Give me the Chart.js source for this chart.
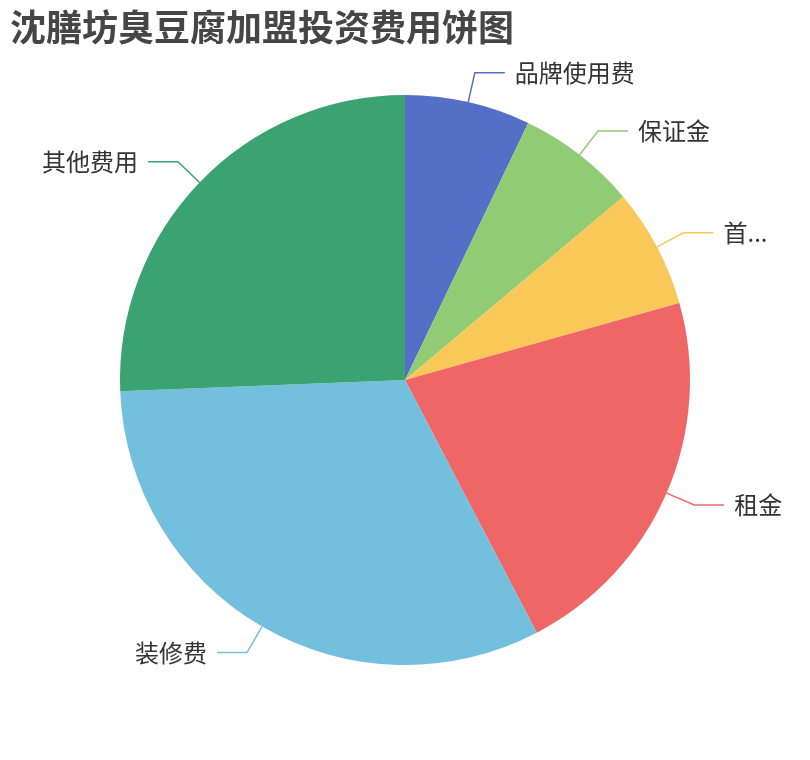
<!DOCTYPE html>
<html lang="zh">
<head>
    <meta charset="UTF-8">
    <title>沈膳坊臭豆腐加盟投资费用饼图</title>
    <style>
        html, body {
            margin: 0;
            padding: 0;
            background: #fff;
        }

        #wrap {
            position: relative;
            width: 810px;
            height: 760px;
        }

        #title {
            position: absolute;
            left: 10px;
            top: 3px;
            margin: 0;
            font: bold 36px "Noto Sans CJK SC", sans-serif;
            color: #464646;
            line-height: 44px;
        }

        #pieChart {
            position: absolute;
            left: 0;
            top: 0;
        }
    </style>
</head>
<body>
    <div id="wrap">
        <canvas id="pieChart" width="810" height="760"></canvas>
        <h1 id="title">沈膳坊臭豆腐加盟投资费用饼图</h1>
    </div>
    <script src="https://cdn.jsdelivr.net/npm/chart.js"></script>
    <script>
        // 费用项目与数值
        const categories = ['品牌使用费', '保证金', '首批进货费', '租金', '装修费', '其他费用'];
        const costValues = [2.0, 1.9, 1.9, 6.1, 9.0, 7.2];
        const sliceColors = ['#5470c6', '#91cc75', '#fac858', '#ee6666', '#73c0de', '#3ba272'];

        // 外部标签 + 引导线
        const outsideLabels = {
            id: 'outsideLabels',
            afterDatasetsDraw(chart) {
                const ctx = chart.ctx;
                const meta = chart.getDatasetMeta(0);
                const len1 = 30, len2 = 30, gap = 10;
                ctx.save();
                ctx.font = '24px "Noto Sans CJK SC", sans-serif';
                ctx.textBaseline = 'middle';
                meta.data.forEach((arc, i) => {
                    const p = arc.getProps(['x', 'y', 'startAngle', 'endAngle', 'outerRadius'], true);
                    const mid = (p.startAngle + p.endAngle) / 2;
                    const cos = Math.cos(mid), sin = Math.sin(mid);
                    const x1 = p.x + cos * p.outerRadius, y1 = p.y + sin * p.outerRadius;
                    const x2 = p.x + cos * (p.outerRadius + len1), y2 = p.y + sin * (p.outerRadius + len1);
                    const right = cos >= 0;
                    const x3 = x2 + (right ? len2 : -len2);

                    ctx.strokeStyle = sliceColors[i];
                    ctx.lineWidth = 1.5;
                    ctx.beginPath();
                    ctx.moveTo(x1, y1);
                    ctx.lineTo(x2, y2);
                    ctx.lineTo(x3, y2);
                    ctx.stroke();

                    const tx = x3 + (right ? gap : -gap);
                    // 超出右侧空间时截断
                    const maxW = right ? chart.width - tx - 24 : tx - 10;
                    let text = categories[i];
                    if (ctx.measureText(text).width > maxW) {
                        while (text.length > 1 && ctx.measureText(text + '...').width > maxW) {
                            text = text.slice(0, -1);
                        }
                        text += '...';
                    }
                    ctx.fillStyle = '#333';
                    ctx.textAlign = right ? 'left' : 'right';
                    ctx.fillText(text, tx, y2);
                });
                ctx.restore();
            }
        };

        function createPieChart() {
            const ctx = document.getElementById('pieChart').getContext('2d');
            new Chart(ctx, {
                type: 'pie',
                data: {
                    labels: categories,
                    datasets: [{
                        data: costValues,
                        backgroundColor: sliceColors,
                        borderWidth: 0
                    }]
                },
                options: {
                    responsive: false,
                    animation: false,
                    layout: {
                        padding: { left: 120, right: 120, top: 95, bottom: 95 }
                    },
                    plugins: {
                        legend: { display: false },
                        tooltip: { enabled: false }
                    }
                },
                plugins: [outsideLabels]
            });
        }

        window.onload = createPieChart;
    </script>
</body>
</html>
